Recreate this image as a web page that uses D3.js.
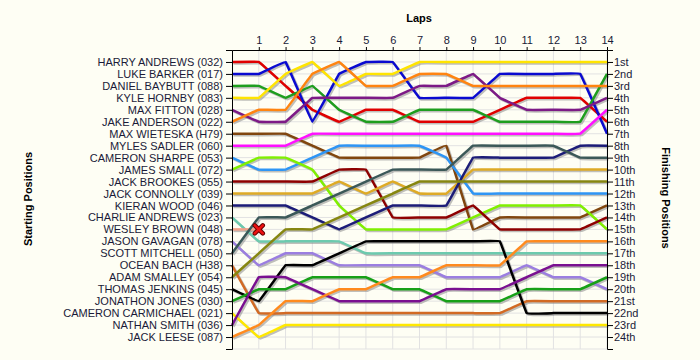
<!DOCTYPE html>
<html><head><meta charset="utf-8">
<script src="https://cdn.jsdelivr.net/npm/d3@7"></script>
<style>
html,body{margin:0;padding:0;background:#fefef4;}
svg{display:block;font-family:"Liberation Sans",Arial,sans-serif;}
</style></head>
<body>
<svg id="c" width="700" height="360"></svg>
<script>
const laps = d3.range(0, 15);
const drivers = ["HARRY ANDREWS (032)","LUKE BARKER (017)","DANIEL BAYBUTT (088)","KYLE HORNBY (083)","MAX FITTON (028)","JAKE ANDERSON (022)","MAX WIETESKA (H79)","MYLES SADLER (060)","CAMERON SHARPE (053)","JAMES SMALL (072)","JACK BROOKES (055)","JACK CONNOLLY (039)","KIERAN WOOD (046)","CHARLIE ANDREWS (023)","WESLEY BROWN (048)","JASON GAVAGAN (078)","SCOTT MITCHELL (050)","OCEAN BACH (H38)","ADAM SMALLEY (054)","THOMAS JENKINS (045)","JONATHON JONES (030)","CAMERON CARMICHAEL (021)","NATHAN SMITH (036)","JACK LEESE (087)"];
const colors = ["#e00000","#0a0ad0","#1e9e1e","#ffe400","#7d1a86","#ff8410","#80460e","#ff10ff","#2e95f5","#80f000","#8e0000","#deaa26","#1c1c78","#6ccaae","#f2a088","#9b7ee0","#3b5858","#d26a24","#868610","#000000","#17a017","#ffe800","#7a1090","#ff8a1e"];
const positions = [
 [1,1,3,5,6,5,5,6,6,6,5,4,4,4,6],
 [2,2,1,6,2,1,1,4,4,4,2,2,2,2,7],
 [3,3,4,3,5,6,6,5,5,5,6,6,6,6,2],
 [4,4,2,1,3,2,2,1,1,1,1,1,1,1,1],
 [5,6,6,4,4,4,4,3,3,2,4,5,5,5,4],
 [6,5,5,2,1,3,3,2,2,3,3,3,3,3,3],
 [7,7,7,8,9,9,9,9,8,15,14,14,14,14,13],
 [8,8,8,7,7,7,7,7,7,7,7,7,7,7,5],
 [9,10,10,9,8,8,8,8,9,12,12,12,12,12,12],
 [10,9,9,10,13,15,15,15,15,14,13,13,13,13,15],
 [11,11,11,11,10,10,14,14,14,13,15,15,15,15,14],
 [12,12,12,12,11,12,11,12,12,10,10,10,10,10,10],
 [13,13,13,14,15,14,13,13,13,9,9,9,9,8,8],
 [14,16,16,16,16,17,17,17,17,17,17,17,17,17,17],
 [15,15],
 [16,18,17,17,18,18,18,18,19,19,19,18,19,19,20],
 [17,14,14,13,12,11,10,10,10,8,8,8,8,9,9],
 [18,22,22,22,22,22,22,22,22,22,22,21,21,21,21],
 [19,17,15,15,14,13,12,11,11,11,11,11,11,11,11],
 [20,21,18,18,17,16,16,16,16,16,16,22,22,22,22],
 [21,20,20,19,19,19,20,20,21,21,21,20,20,20,19],
 [22,24,23,23,23,23,23,23,23,23,23,23,23,23,23],
 [23,19,19,20,21,21,21,21,20,20,20,19,18,18,18],
 [24,23,21,21,20,20,19,19,18,18,18,16,16,16,16]
];
const retired = [{driver: 14, lap: 1}];
const finishLabels = ["1st","2nd","3rd","4th","5th","6th","7th","8th","9th","10th","11th","12th","13th","14th","15th","16th","17th","18th","19th","20th","21st","22nd","23rd","24th"];

const svg = d3.select("#c");
const x = d3.scaleLinear().domain([0, 14]).range([232, 607]);
const y = d3.scaleLinear().domain([0, 25]).range([50, 349]);
const textCol = "#1a1a38";

// grid
const g = svg.append("g");
g.selectAll("line.v").data(laps.slice(1)).join("line")
  .attr("x1", d => x(d)).attr("x2", d => x(d)).attr("y1", y(0)).attr("y2", y(25))
  .attr("stroke", "#e2e2e2").attr("stroke-width", 1);
g.selectAll("line.h").data(d3.range(1, 26)).join("line")
  .attr("x1", x(0)).attr("x2", x(14)).attr("y1", d => y(d)).attr("y2", d => y(d))
  .attr("stroke", "#e2e2e2").attr("stroke-width", 1);

// lines
const line = d3.line().x((d, i) => x(i)).y(d => y(d)).curve(d3.curveCardinal.tension(0.9));
const lg = svg.append("g");
positions.forEach((p, i) => {
  lg.append("path").attr("d", line(p)).attr("fill", "none")
    .attr("stroke", "#8a8a8a").attr("stroke-opacity", 0.55).attr("stroke-width", 2.5)
    .attr("transform", "translate(1.5,1.5)").attr("stroke-linejoin", "round");
});
positions.forEach((p, i) => {
  lg.append("path").attr("d", line(p)).attr("fill", "none")
    .attr("stroke", colors[i]).attr("stroke-width", 2.5).attr("stroke-linejoin", "round");
});

// retired markers
retired.forEach(r => {
  const cx = x(r.lap), cy = y(positions[r.driver][r.lap]);
  const xs = svg.append("g").attr("transform", `translate(${cx},${cy})`);
  const path = "M-4,-4L4,4M-4,4L4,-4";
  xs.append("path").attr("d", path).attr("stroke", "#600").attr("stroke-width", 4.5).attr("stroke-linecap", "round");
  xs.append("path").attr("d", path).attr("stroke", "#ee1111").attr("stroke-width", 2.5).attr("stroke-linecap", "round");
});

// axes
function styleAxis(sel) {
  sel.selectAll("path,line").attr("stroke", "#000");
  sel.selectAll("text").attr("fill", textCol).attr("font-size", 11)
    .attr("font-family", "'Liberation Sans',Arial,sans-serif");
}
svg.append("g").attr("transform", `translate(0,${y(0)})`)
  .call(d3.axisTop(x).tickValues(d3.range(1, 15)).tickSize(3).tickSizeOuter(0).tickPadding(3))
  .call(styleAxis);
svg.append("g").attr("transform", `translate(${x(0)},0)`)
  .call(d3.axisLeft(y).tickValues(d3.range(1, 25)).tickFormat(d => drivers[d - 1]).tickSize(6).tickSizeOuter(6).tickPadding(3))
  .call(styleAxis);
svg.append("g").attr("transform", `translate(${x(14)},0)`)
  .call(d3.axisRight(y).tickValues(d3.range(1, 25)).tickFormat(d => finishLabels[d - 1]).tickSize(6).tickSizeOuter(6).tickPadding(1))
  .call(styleAxis);

// titles
svg.append("text").attr("x", 419).attr("y", 22).attr("text-anchor", "middle")
  .attr("font-size", 11).attr("font-weight", "bold").attr("fill", "#000").text("Laps");
svg.append("text").attr("transform", "translate(32,199) rotate(-90)").attr("text-anchor", "middle")
  .attr("font-size", 11).attr("font-weight", "bold").attr("fill", "#000").text("Starting Positions");
svg.append("text").attr("transform", "translate(662,198) rotate(90)").attr("text-anchor", "middle")
  .attr("font-size", 11).attr("font-weight", "bold").attr("fill", "#000").text("Finishing Positions");
</script>
</body></html>
